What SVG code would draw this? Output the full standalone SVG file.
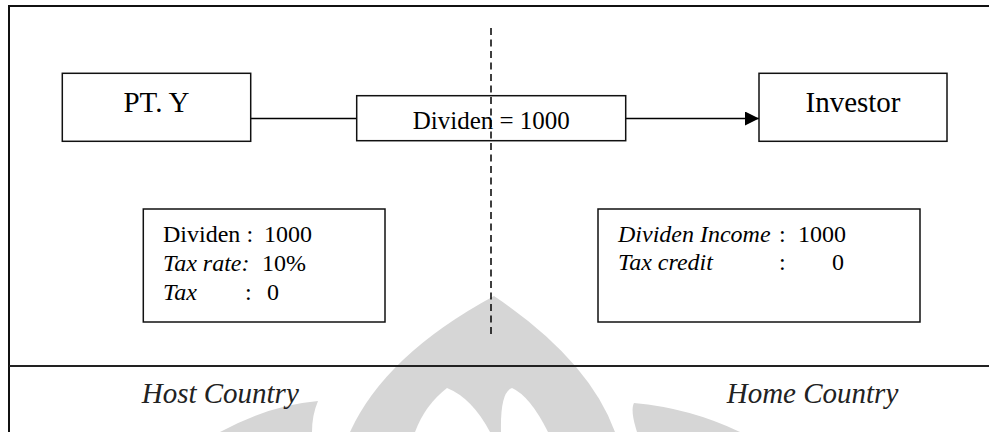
<svg xmlns="http://www.w3.org/2000/svg" width="989" height="432" viewBox="0 0 989 432">
<defs>
<style>
.box{fill:none;stroke:#111;stroke-width:1.5}
.t{font-family:"Liberation Serif","Times New Roman",serif;fill:#000}
.i{font-style:italic}
.big{font-size:29px}
.mid{font-size:25px}
.sm{font-size:24px}
.wm{fill:#d6d6d6;stroke:none}
.conn{stroke:#000;stroke-width:1.5;fill:none}
</style>
<marker id="arrow" viewBox="0 0 14 14" refX="14" refY="7" markerWidth="14" markerHeight="14" markerUnits="userSpaceOnUse" orient="auto">
<path d="M0 0 L14 7 L0 14 Z" fill="#000"/>
</marker>
</defs>
<rect x="0" y="0" width="989" height="432" fill="#fff"/>
<g id="watermark">
<path class="wm" d="M494 296 Q385 355 350 432 L615 432 Q589 360 494 296 Z"/>
<path fill="#fff" d="M447 388 Q425 405 415 432 L490 432 Q472 398 447 388 Z"/>
<path fill="#fff" d="M501 432 Q500 392 512 388 Q530 396 548 432 Z"/>
<path class="wm" d="M220 432 Q270 405 318 401 Q312 415 312 432 Z"/>
<path class="wm" d="M637 432 Q630 410 634 403 Q690 408 740 432 Z"/>
</g>
<g id="frame">
<rect x="9" y="6" width="992" height="440" fill="none" stroke="#111" stroke-width="2"/>
<line x1="9" y1="366" x2="989" y2="366" stroke="#222" stroke-width="2"/>
<line x1="491" y1="28" x2="491" y2="337" stroke="#000" stroke-width="1.5" stroke-dasharray="7 4.5"/>
</g>
<g id="connectors">
<line class="conn" x1="250.7" y1="118.5" x2="356.7" y2="118.5"/>
<line class="conn" x1="625.7" y1="118.5" x2="759" y2="118.5" marker-end="url(#arrow)"/>
</g>
<g id="pt-y">
<rect class="box" x="62.3" y="73.3" width="188.4" height="68"/>
<text class="t big" x="156.5" y="112" text-anchor="middle">PT. Y</text>
</g>
<g id="dividen">
<rect class="box" x="356.7" y="95.7" width="269" height="45"/>
<text class="t mid" x="491.3" y="129" text-anchor="middle">Dividen = 1000</text>
</g>
<g id="investor">
<rect class="box" x="759" y="73.3" width="188" height="68"/>
<text class="t big" x="853" y="111.7" text-anchor="middle">Investor</text>
</g>
<g id="host-box">
<rect class="box" x="143.3" y="209" width="241.7" height="113"/>
<text class="t sm" x="163" y="242">Dividen<tspan x="246.5">:</tspan><tspan x="264">1000</tspan></text>
<text class="t sm" y="271"><tspan class="i" x="163">Tax rate:</tspan><tspan x="262">10%</tspan></text>
<text class="t sm" y="300"><tspan class="i" x="163">Tax</tspan><tspan x="245">:</tspan><tspan x="267">0</tspan></text>
</g>
<g id="home-box">
<rect class="box" x="598" y="209" width="322" height="113"/>
<text class="t sm" y="241.5"><tspan class="i" x="618">Dividen Income</tspan><tspan x="779">:</tspan><tspan x="798">1000</tspan></text>
<text class="t sm" y="270"><tspan class="i" x="618">Tax credit</tspan><tspan x="779">:</tspan><tspan x="832">0</tspan></text>
</g>
<g id="labels">
<text class="t i big" x="141.7" y="403" fill="#222" style="fill:#222">Host Country</text>
<text class="t i big" x="726.7" y="403" style="fill:#222">Home Country</text>
</g>
</svg>
